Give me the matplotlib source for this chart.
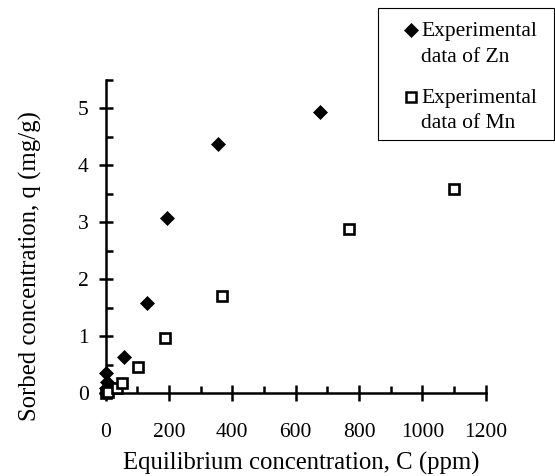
import matplotlib
matplotlib.use("Agg")
import matplotlib.pyplot as plt
from matplotlib import font_manager as fm
from matplotlib.lines import Line2D
from matplotlib.patches import Rectangle
from matplotlib.ticker import MultipleLocator

names = sorted({f.name for f in fm.fontManager.ttflist})
serif = [n for n in names if n == 'Liberation Serif'] or [n for n in names if 'Times' in n]
fam = serif[0] if serif else 'DejaVu Serif'
plt.rcParams['font.family'] = [fam, 'DejaVu Serif']

# Data
zn_c = [0, 2, 5, 3, 58, 131, 193, 356, 678]
zn_q = [0, 0.08, 0.2, 0.36, 0.63, 1.59, 3.07, 4.37, 4.94]
mn_c = [0, 8, 35, 51, 104, 188, 369, 770, 1099]
mn_q = [0, 0.02, 0.08, 0.17, 0.46, 0.97, 1.71, 2.89, 3.58]

x_ticks = [0, 200, 400, 600, 800, 1000, 1200]
y_ticks = [0, 1, 2, 3, 4, 5]
x_label = "Equilibrium concentration, C (ppm)"
y_label = "Sorbed concentration, q (mg/g)"
legend_lines = [["Experimental", "data of Zn"], ["Experimental", "data of Mn"]]

W, H = 555, 476
fig = plt.figure(figsize=(W / 100, H / 100), dpi=100)
x0, x1 = 105.5, 485.7
y0, y1 = 393, 80
ax = fig.add_axes([x0 / W, 1 - y0 / H, (x1 - x0) / W, (y0 - y1) / H])

FS_T = 15.5
FS_L = 17.8
ax.plot(zn_c, zn_q, linestyle='none', marker='D', ms=7.2, mfc='black', mec='black',
        mew=0.5, clip_on=False, zorder=3)
ax.plot(mn_c, mn_q, linestyle='none', marker='s', ms=7.2, mfc='white', mec='black',
        mew=1.9, clip_on=False, zorder=3)

ax.set_xlim(0, 1200)
ax.set_ylim(0, 5.5)
ax.set_xticks(x_ticks)
ax.set_yticks(y_ticks)
ax.xaxis.set_minor_locator(MultipleLocator(100))
ax.yaxis.set_minor_locator(MultipleLocator(0.5))

for s in ['top', 'right']:
    ax.spines[s].set_visible(False)
for s in ['left', 'bottom']:
    ax.spines[s].set_linewidth(1.8)

ax.tick_params(axis='x', which='major', direction='inout', length=11, width=1.8,
               labelsize=FS_T, pad=16)
ax.tick_params(axis='x', which='minor', direction='in', length=5, width=1.8)
ax.tick_params(axis='y', which='major', direction='inout', length=10, width=1.8,
               labelsize=FS_T, pad=7)
ax.tick_params(axis='y', which='minor', direction='in', length=5, width=1.8)

ax.set_xlabel(x_label, fontsize=FS_L)
ax.set_ylabel(y_label, fontsize=FS_L)
ax.xaxis.set_label_coords((301 - x0) / (x1 - x0), (y0 - 463) / (y0 - y1))
ax.xaxis.label.set_va('center')
ax.yaxis.set_label_coords((30 - x0) / (x1 - x0), (y0 - 266.5) / (y0 - y1))
ax.yaxis.label.set_va('center')

# Legend (manual)
fig.patches.append(Rectangle((378 / W, 1 - 140 / H), (554 - 378) / W, (140 - 8) / H,
                             transform=fig.transFigure, fill=False, edgecolor='black',
                             linewidth=0.8))
fig.add_artist(Line2D([411 / W], [1 - 30 / H], transform=fig.transFigure, marker='D',
                      ms=7, mfc='black', mec='black', mew=0.5, linestyle='none'))
fig.add_artist(Line2D([411 / W], [1 - 97 / H], transform=fig.transFigure, marker='s',
                      ms=6.5, mfc='white', mec='black', mew=1.8, linestyle='none'))
baselines = [[36, 62], [103, 128]]
for lines, bl in zip(legend_lines, baselines):
    for t, b in zip(lines, bl):
        fig.text(421 / W, 1 - b / H, t, fontsize=FS_T, va='baseline', ha='left')

fig.savefig("out.png", dpi=100)
